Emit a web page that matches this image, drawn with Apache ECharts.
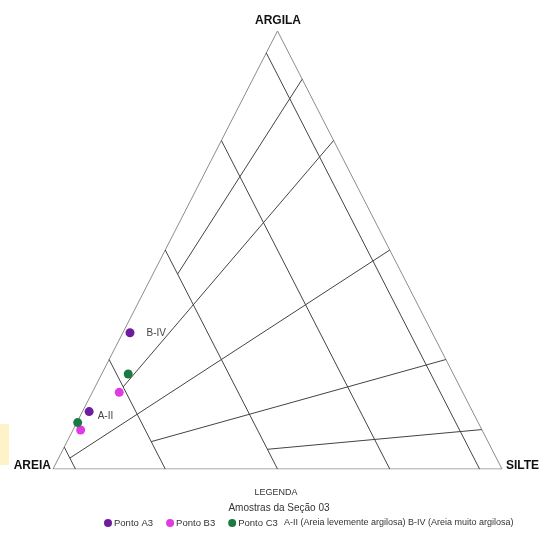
<!DOCTYPE html>
<html>
<head>
<meta charset="utf-8">
<script src="https://cdn.jsdelivr.net/npm/echarts@6/dist/echarts.min.js"></script>
<style>
  html, body { margin: 0; padding: 0; background: #fff; }
  #chart { width: 542px; height: 534px; }
</style>
</head>
<body>
<div id="chart"></div>
<script>
// Textural classes (sand / silt / clay, in %)
const cornerLabels = ['AREIA', 'SILTE', 'ARGILA'];

// Sand-content class limits (lines parallel to the silt–clay side)
const sandLimits = [95, 75, 50, 25, 5];

// Clay share of the mud fraction (%) for the radial class limits,
// and the sand content where each radial limit begins
const mudClayShares = [9, 25, 50, 75, 89];
const radialStartSand = [50, 75, 95, 75, 50];

// Samples: [sand, silt, clay]
const pontoA3 = [[67.3, 1.6, 31.1], [85.4, 1.5, 13.1]];
const pontoB3 = [[76.5, 6.0, 17.5], [89.4, 1.7, 8.9]];
const pontoC3 = [[72.4, 5.9, 21.7], [89.2, 0.2, 10.6]];

// Class names shown beside samples
const classLabelA3 = ['B-IV', 'A-II'];

const legendTitle = 'LEGENDA';
const legendSubtitle = 'Amostras da Seção 03';
const legendNote = 'A-II (Areia levemente argilosa) B-IV (Areia muito argilosa)';

// ternary -> cartesian (x runs sand->silt along the base, y is clay)
function tern(sand, silt, clay) {
  const t = sand + silt + clay;
  silt = silt / t * 100; clay = clay / t * 100;
  return [silt + clay / 2, clay];
}

const edgeColor = '#8c8c8c';
const innerColor = '#444';

function seg(a, b, color) {
  return {
    type: 'line', data: [a, b], symbol: 'none', silent: true,
    lineStyle: { color: color, width: 1 }, animation: false, z: 1
  };
}

const series = [];
// outer triangle
series.push({
  type: 'line', symbol: 'none', silent: true, animation: false,
  data: [tern(100, 0, 0), tern(0, 100, 0), tern(0, 0, 100), tern(100, 0, 0)],
  lineStyle: { color: edgeColor, width: 1 }, z: 1
});
// constant-sand limits
sandLimits.forEach(s => {
  series.push(seg(tern(s, 0, 100 - s), tern(s, 100 - s, 0), innerColor));
});
// radial silt:clay limits
mudClayShares.forEach((r, i) => {
  const s0 = radialStartSand[i];
  const mud = 100 - s0;
  series.push(seg(tern(s0, mud * (100 - r) / 100, mud * r / 100),
                  tern(0, 100 - r, r), innerColor));
});

function samples(name, pts, color, labels) {
  return {
    name: name, type: 'scatter', symbol: 'circle', symbolSize: 9,
    itemStyle: { color: color, opacity: 1 }, z: 5, animation: false,
    data: pts.map((p, i) => {
      const d = { value: tern(p[0], p[1], p[2]) };
      if (labels && labels[i]) {
        d.label = {
          show: true, formatter: labels[i], position: 'right',
          distance: i === 0 ? 12 : 4, offset: i === 0 ? [0, 0] : [0, 5],
          color: '#444', fontSize: 10, fontFamily: 'Liberation Sans'
        };
      }
      return d;
    })
  };
}
series.push(samples('Ponto A3', pontoA3, '#6e1d9e', classLabelA3));
series.push(samples('Ponto B3', pontoB3, '#e03be3', null));
series.push(samples('Ponto C3', pontoC3, '#1b7a44', null));

const chart = echarts.init(document.getElementById('chart'), null, { renderer: 'canvas' });
chart.setOption({
  backgroundColor: '#fff',
  animation: false,
  grid: { left: 53, right: 40, top: 31, bottom: 65 },
  xAxis: { type: 'value', min: 0, max: 100, show: false },
  yAxis: { type: 'value', min: 0, max: 100, show: false },
  legend: {
    data: ['Ponto A3', 'Ponto B3', 'Ponto C3'],
    left: 104, top: 518, icon: 'circle', itemWidth: 8, itemHeight: 8,
    itemGap: 13, padding: 0,
    textStyle: { fontSize: 9.5, color: '#333', fontFamily: 'Liberation Sans', padding: [0, 0, 0, -3] }
  },
  graphic: [
    { type: 'rect', shape: { x: 0, y: 424, width: 9, height: 41 }, style: { fill: '#fdf2c8' }, silent: true },
    { type: 'text', x: 278, y: 21, style: { text: cornerLabels[2], fontSize: 12, fontWeight: 'bold', fill: '#111', fontFamily: 'Liberation Sans', textAlign: 'center', textVerticalAlign: 'middle' } },
    { type: 'text', x: 51, y: 466, style: { text: cornerLabels[0], fontSize: 12, fontWeight: 'bold', fill: '#111', fontFamily: 'Liberation Sans', textAlign: 'right', textVerticalAlign: 'middle' } },
    { type: 'text', x: 506, y: 466, style: { text: cornerLabels[1], fontSize: 12, fontWeight: 'bold', fill: '#111', fontFamily: 'Liberation Sans', textAlign: 'left', textVerticalAlign: 'middle' } },
    { type: 'text', x: 276, y: 493, style: { text: legendTitle, fontSize: 9, fill: '#333', fontFamily: 'Liberation Sans', textAlign: 'center', textVerticalAlign: 'middle' } },
    { type: 'text', x: 279, y: 508, style: { text: legendSubtitle, fontSize: 10, fill: '#333', fontFamily: 'Liberation Sans', textAlign: 'center', textVerticalAlign: 'middle' } },
    { type: 'text', x: 284, y: 522.5, style: { text: legendNote, fontSize: 9, fill: '#333', fontFamily: 'Liberation Sans', textAlign: 'left', textVerticalAlign: 'middle' } }
  ],
  series: series
});
</script>
</body>
</html>
